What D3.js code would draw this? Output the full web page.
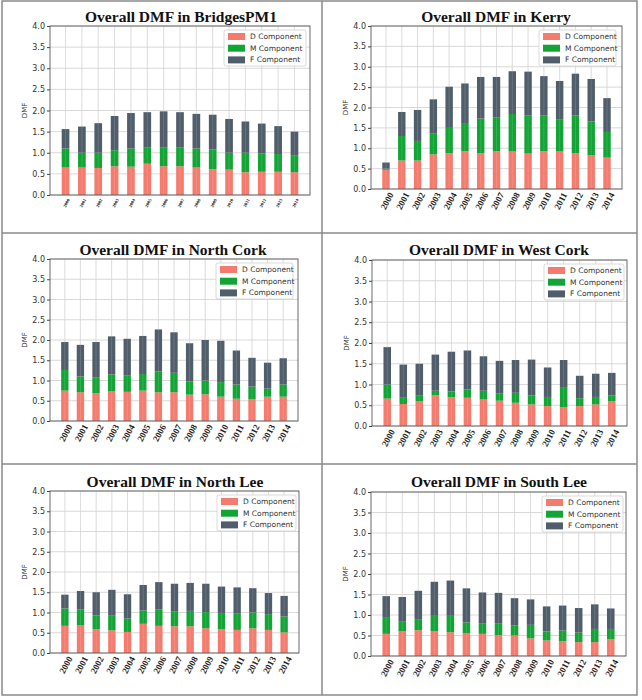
<!DOCTYPE html>
<html lang="en">
<head>
    <meta charset="UTF-8">
    <title>Overall DMF</title>
    <script src="https://d3js.org/d3.v7.min.js"></script>
    <style>
        body{
            margin: 0;
            background: white;
        }
        svg{
            display: block;
        }
    </style>
</head>
<body>
<svg></svg>
<script>
    // Data: years and the three DMF components per region
    const years = ["2000","2001","2002","2003","2004","2005","2006","2007","2008","2009","2010","2011","2012","2013","2014"];
    const components = ["D Component", "M Component", "F Component"];
    const colors = ["#f47b6d", "#12a535", "#505d6a"];
    const yTicks = [0, 0.5, 1.0, 1.5, 2.0, 2.5, 3.0, 3.5, 4.0];

    const bridgesD = [0.65,0.65,0.64,0.68,0.67,0.74,0.68,0.68,0.65,0.61,0.60,0.54,0.55,0.55,0.54];
    const bridgesM = [0.45,0.35,0.36,0.38,0.43,0.38,0.44,0.44,0.45,0.47,0.40,0.46,0.43,0.42,0.39];
    const bridgesF = [0.46,0.62,0.70,0.81,0.84,0.84,0.86,0.84,0.82,0.82,0.80,0.74,0.71,0.66,0.57];

    const kerryD = [0.47,0.70,0.70,0.85,0.88,0.93,0.88,0.93,0.92,0.87,0.93,0.92,0.88,0.83,0.77];
    const kerryM = [0.03,0.60,0.48,0.52,0.62,0.69,0.85,0.82,0.92,0.93,0.87,0.78,0.92,0.83,0.63];
    const kerryF = [0.15,0.59,0.76,0.83,1.01,0.97,1.02,1.00,1.05,1.08,0.97,0.95,1.03,1.04,0.83];

    const northCorkD = [0.75,0.71,0.69,0.74,0.72,0.75,0.71,0.71,0.65,0.66,0.60,0.55,0.54,0.60,0.60];
    const northCorkM = [0.51,0.39,0.38,0.41,0.41,0.41,0.51,0.48,0.33,0.34,0.36,0.35,0.31,0.20,0.30];
    const northCorkF = [0.69,0.78,0.88,0.94,0.90,0.94,1.04,1.00,0.94,1.00,1.02,0.84,0.71,0.64,0.65];

    const westCorkD = [0.66,0.53,0.60,0.74,0.69,0.68,0.65,0.61,0.56,0.52,0.48,0.45,0.48,0.52,0.60];
    const westCorkM = [0.34,0.15,0.13,0.11,0.14,0.20,0.20,0.18,0.24,0.22,0.22,0.47,0.19,0.18,0.14];
    const westCorkF = [0.90,0.80,0.77,0.87,0.96,0.94,0.83,0.78,0.79,0.86,0.71,0.67,0.54,0.56,0.54];

    const northLeeD = [0.67,0.68,0.59,0.56,0.52,0.72,0.67,0.66,0.66,0.61,0.59,0.57,0.61,0.57,0.51];
    const northLeeM = [0.43,0.40,0.34,0.36,0.33,0.33,0.41,0.36,0.38,0.40,0.40,0.40,0.39,0.39,0.39];
    const northLeeF = [0.34,0.45,0.57,0.64,0.60,0.63,0.67,0.69,0.69,0.70,0.65,0.65,0.60,0.52,0.51];

    const southLeeD = [0.54,0.60,0.63,0.60,0.58,0.56,0.54,0.51,0.50,0.43,0.38,0.36,0.34,0.34,0.41];
    const southLeeM = [0.41,0.25,0.27,0.40,0.42,0.26,0.26,0.29,0.25,0.33,0.22,0.26,0.23,0.32,0.25];
    const southLeeF = [0.51,0.59,0.69,0.81,0.84,0.83,0.75,0.74,0.66,0.62,0.61,0.61,0.60,0.60,0.50];

    // Panel layout (plot box, title, legend, tick label size)
    const panels = [
        {name:"BridgesPM1", d:bridgesD, m:bridgesM, f:bridgesF,
         x0:50, x1:310, y0:26, y1:195, tx:181, ty:22, lx:224, ly:30, lw:82, xfont:4.5},
        {name:"Kerry", d:kerryD, m:kerryM, f:kerryF,
         x0:371, x1:622, y0:26, y1:189, tx:496, ty:22, lx:539, ly:30, lw:77, xfont:9},
        {name:"North Cork", d:northCorkD, m:northCorkM, f:northCorkF,
         x0:50, x1:298, y0:259, y1:421, tx:173, ty:255, lx:216, ly:263, lw:77, xfont:9},
        {name:"West Cork", d:westCorkD, m:westCorkM, f:westCorkF,
         x0:372, x1:627, y0:260, y1:426, tx:499, ty:255, lx:544, ly:264, lw:80, xfont:9},
        {name:"North Lee", d:northLeeD, m:northLeeM, f:northLeeF,
         x0:50, x1:299, y0:491, y1:653, tx:175, ty:487, lx:217, ly:495, lw:79, xfont:9},
        {name:"South Lee", d:southLeeD, m:southLeeM, f:southLeeF,
         x0:371, x1:626, y0:492, y1:656, tx:499, ty:487, lx:542, ly:496, lw:81, xfont:9}
    ];

    const width = 642;
    const height = 700;
    const svg = d3.select("svg")
        .attr("width", width)
        .attr("height", height);

    // outer frame of the figure grid
    const frame = svg.append("g")
        .attr("stroke", "#8a8a8a")
        .attr("stroke-width", 1.5)
        .attr("fill", "none");
    frame.append("rect").attr("x", 2).attr("y", 1).attr("width", 635).attr("height", 694);
    frame.append("line").attr("x1", 322).attr("x2", 322).attr("y1", 1).attr("y2", 695);
    frame.append("line").attr("x1", 2).attr("x2", 637).attr("y1", 233).attr("y2", 233);
    frame.append("line").attr("x1", 2).attr("x2", 637).attr("y1", 464).attr("y2", 464);

    panels.forEach(p => {
        const g = svg.append("g");

        const rows = years.map((yr, i) => ({year: i, d: p.d[i], m: p.m[i], f: p.f[i]}));
        const stacked = d3.stack().keys(["d", "m", "f"])(rows);

        const x = d3.scaleLinear()
            .domain([-0.95, 14.95])
            .range([p.x0, p.x1]);
        const y = d3.scaleLinear()
            .domain([0, 4])
            .range([p.y1, p.y0]);
        const barW = (x(1) - x(0)) * 0.47;

        // grid
        g.append("g")
            .selectAll("line.h")
            .data(yTicks)
            .join("line")
            .attr("x1", p.x0).attr("x2", p.x1)
            .attr("y1", d => y(d)).attr("y2", d => y(d))
            .attr("stroke", "#cfcfcf")
            .attr("stroke-width", 0.8);
        g.append("g")
            .selectAll("line.v")
            .data(d3.range(years.length))
            .join("line")
            .attr("x1", d => x(d)).attr("x2", d => x(d))
            .attr("y1", p.y0).attr("y2", p.y1)
            .attr("stroke", "#cfcfcf")
            .attr("stroke-width", 0.8);

        // stacked bars
        g.append("g")
            .selectAll("g")
            .data(stacked)
            .join("g")
            .attr("fill", (d, i) => colors[i])
            .selectAll("rect")
            .data(d => d)
            .join("rect")
            .attr("x", d => x(d.data.year) - barW / 2)
            .attr("width", barW)
            .attr("y", d => y(d[1]))
            .attr("height", d => y(d[0]) - y(d[1]));

        // faint grid over bars
        g.append("g")
            .selectAll("line")
            .data(d3.range(years.length))
            .join("line")
            .attr("x1", d => x(d)).attr("x2", d => x(d))
            .attr("y1", p.y0).attr("y2", p.y1)
            .attr("stroke", "#ffffff")
            .attr("stroke-opacity", 0.18)
            .attr("stroke-width", 0.8);

        // axes box
        g.append("rect")
            .attr("x", p.x0).attr("y", p.y0)
            .attr("width", p.x1 - p.x0).attr("height", p.y1 - p.y0)
            .attr("fill", "none")
            .attr("stroke", "#5a5a5a")
            .attr("stroke-width", 0.9);

        // y axis
        const yAxis = g.append("g")
            .attr("transform", `translate(${p.x0},0)`)
            .call(d3.axisLeft(y).tickValues(yTicks).tickFormat(d3.format(".1f")).tickSize(3).tickPadding(2));
        yAxis.select(".domain").remove();
        yAxis.selectAll("line").attr("stroke", "#444");
        yAxis.selectAll("text")
            .attr("font-family", "DejaVu Sans, sans-serif")
            .attr("font-size", 8)
            .attr("fill", "#333");

        g.append("text")
            .attr("transform", `translate(${p.x0 - 23},${(p.y0 + p.y1) / 2}) rotate(-90)`)
            .attr("text-anchor", "middle")
            .attr("font-family", "DejaVu Sans, sans-serif")
            .attr("font-size", 7)
            .attr("fill", "#333")
            .text("DMF");

        // x tick labels (rotated)
        g.append("g")
            .selectAll("text")
            .data(years)
            .join("text")
            .attr("transform", (d, i) => `translate(${x(i) + 1},${p.y1 + (p.xfont > 5 ? 12 : 8)}) rotate(-62)`)
            .attr("text-anchor", "middle")
            .attr("dominant-baseline", "central")
            .attr("font-family", "Liberation Serif, Times New Roman, serif")
            .attr("font-weight", "bold")
            .attr("font-size", p.xfont)
            .attr("fill", "#222")
            .text(d => d);

        // title
        g.append("text")
            .attr("x", p.tx)
            .attr("y", p.ty)
            .attr("text-anchor", "middle")
            .attr("font-family", "Liberation Serif, Times New Roman, serif")
            .attr("font-weight", "bold")
            .attr("font-size", 15.5)
            .attr("fill", "#111")
            .text(`Overall DMF in ${p.name}`);

        // legend
        const lg = g.append("g").attr("transform", `translate(${p.lx},${p.ly})`);
        lg.append("rect")
            .attr("width", p.lw).attr("height", 36)
            .attr("rx", 2)
            .attr("fill", "white")
            .attr("fill-opacity", 0.9)
            .attr("stroke", "#d0d0d0")
            .attr("stroke-width", 0.8);
        components.forEach((c, i) => {
            lg.append("rect")
                .attr("x", 4).attr("y", 6.5 + i * 11.7 - 3.5)
                .attr("width", 17).attr("height", 7)
                .attr("fill", colors[i]);
            lg.append("text")
                .attr("x", 26).attr("y", 6.5 + i * 11.7)
                .attr("dominant-baseline", "central")
                .attr("font-family", "DejaVu Sans, sans-serif")
                .attr("font-size", 7.5)
                .attr("fill", "#333")
                .text(c);
        });
    });
</script>
</body>
</html>
